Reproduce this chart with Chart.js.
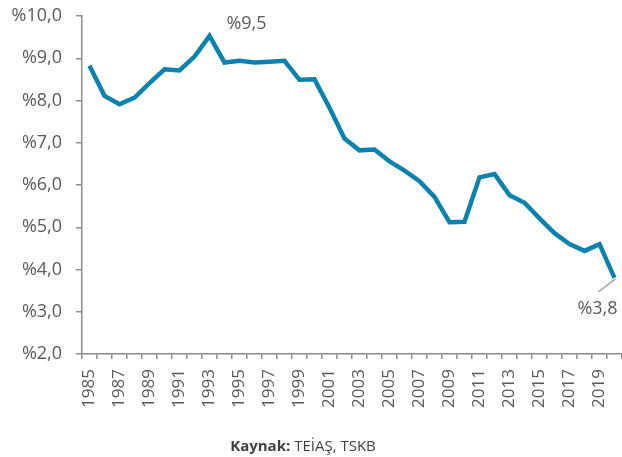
<!DOCTYPE html>
<html>
<head>
<meta charset="utf-8">
<script src="https://cdn.jsdelivr.net/npm/chart.js@4"></script>
<style>
  html, body { margin: 0; padding: 0; background: #fff; }
  #wrap { width: 622px; height: 457px; }
</style>
</head>
<body>
<div id="wrap"><canvas id="lossChart" width="622" height="457"></canvas></div>
<script>
// Years on the x axis
const years = ['1985', '1986', '1987', '1988', '1989', '1990', '1991', '1992', '1993', '1994',
    '1995', '1996', '1997', '1998', '1999', '2000', '2001', '2002', '2003', '2004',
    '2005', '2006', '2007', '2008', '2009', '2010', '2011', '2012', '2013', '2014',
    '2015', '2016', '2017', '2018', '2019', '2020'];

// Values (%)
const lossRate = [8.82, 8.11, 7.91, 8.07, 8.41, 8.74, 8.71, 9.04, 9.53, 8.90,
    8.94, 8.90, 8.92, 8.94, 8.49, 8.50, 7.83, 7.10, 6.82, 6.84,
    6.56, 6.34, 6.09, 5.72, 5.12, 5.13, 6.18, 6.26, 5.76, 5.58,
    5.21, 4.86, 4.60, 4.44, 4.60, 3.80];

// Y axis range
const yMin = 2;
const yMax = 10;
const yStep = 1;

// Labelled points
const peakYear = '1993';
const lastYear = '2020';

const lineColor = '#0a82ad';
const axisColor = '#8c8c8c';
const textColor = '#595959';
const fontFamily = '"Open Sans", sans-serif';

function pct(v, digits) {
    return '%' + v.toFixed(digits).replace('.', ',');
}

// Draw the two value labels and the source line
const notesPlugin = {
    id: 'notes',
    afterDatasetsDraw(chart) {
        const ctx = chart.ctx;
        const meta = chart.getDatasetMeta(0);

        const peakIdx = years.indexOf(peakYear);
        const peak = meta.data[peakIdx];
        ctx.save();
        ctx.fillStyle = textColor;
        ctx.font = '18px ' + fontFamily;
        ctx.textAlign = 'center';
        ctx.textBaseline = 'middle';
        ctx.fillText(pct(lossRate[peakIdx], 1), peak.x + 37, peak.y - 12);

        const lastIdx = years.indexOf(lastYear);
        const last = meta.data[lastIdx];
        ctx.strokeStyle = '#a6a6a6';
        ctx.lineWidth = 1.5;
        ctx.beginPath();
        ctx.moveTo(last.x + 1, last.y + 1);
        ctx.lineTo(last.x - 16, last.y + 14);
        ctx.stroke();
        ctx.fillText(pct(lossRate[lastIdx], 1), last.x - 17, last.y + 31);

        // Source
        ctx.textAlign = 'left';
        ctx.textBaseline = 'alphabetic';
        ctx.fillStyle = '#404040';
        ctx.font = 'bold 15px ' + fontFamily;
        const boldPart = 'Kaynak:';
        const normalPart = ' TEİAŞ, TSKB';
        const w1 = ctx.measureText(boldPart).width;
        ctx.font = '15px ' + fontFamily;
        const w2 = ctx.measureText(normalPart).width;
        const startX = 303 - (w1 + w2) / 2;
        ctx.font = 'bold 15px ' + fontFamily;
        ctx.fillText(boldPart, startX, 451);
        ctx.font = '15px ' + fontFamily;
        ctx.fillText(normalPart, startX + w1, 451);
        ctx.restore();
    }
};

const ctx = document.getElementById('lossChart').getContext('2d');
new Chart(ctx, {
    type: 'line',
    data: {
        labels: years,
        datasets: [{
            data: lossRate,
            borderColor: lineColor,
            borderWidth: 4.5,
            pointRadius: 0,
            tension: 0,
            fill: false,
            clip: false
        }]
    },
    options: {
        responsive: false,
        animation: false,
        events: [],
        layout: {
            padding: { top: 16, right: 0, bottom: 40, left: 0 }
        },
        plugins: {
            legend: { display: false },
            tooltip: { enabled: false }
        },
        scales: {
            x: {
                offset: true,
                grid: {
                    offset: true,
                    drawOnChartArea: false,
                    drawTicks: true,
                    tickLength: 5,
                    color: axisColor,
                    lineWidth: 1.5
                },
                border: { color: axisColor, width: 1.5 },
                ticks: {
                    autoSkip: false,
                    maxRotation: 90,
                    minRotation: 90,
                    padding: 10,
                    color: textColor,
                    font: { family: fontFamily, size: 17 },
                    callback: function(value, index) {
                        return index % 2 === 0 ? years[index] : '';
                    }
                },
                afterFit: function(scale) {
                    scale.height = 63;
                    scale.paddingLeft = 0;
                    scale.paddingRight = 0;
                }
            },
            y: {
                min: yMin,
                max: yMax,
                grid: {
                    drawOnChartArea: false,
                    drawTicks: true,
                    tickLength: 6,
                    color: axisColor,
                    lineWidth: 1.5
                },
                border: { color: axisColor, width: 1.5 },
                ticks: {
                    stepSize: yStep,
                    padding: 14,
                    color: textColor,
                    font: { family: fontFamily, size: 18 },
                    callback: function(value) {
                        return pct(value, 1);
                    }
                },
                afterFit: function(scale) {
                    scale.width = 82;
                    scale.paddingTop = 0;
                    scale.paddingBottom = 0;
                }
            }
        }
    },
    plugins: [notesPlugin]
});
</script>
</body>
</html>
